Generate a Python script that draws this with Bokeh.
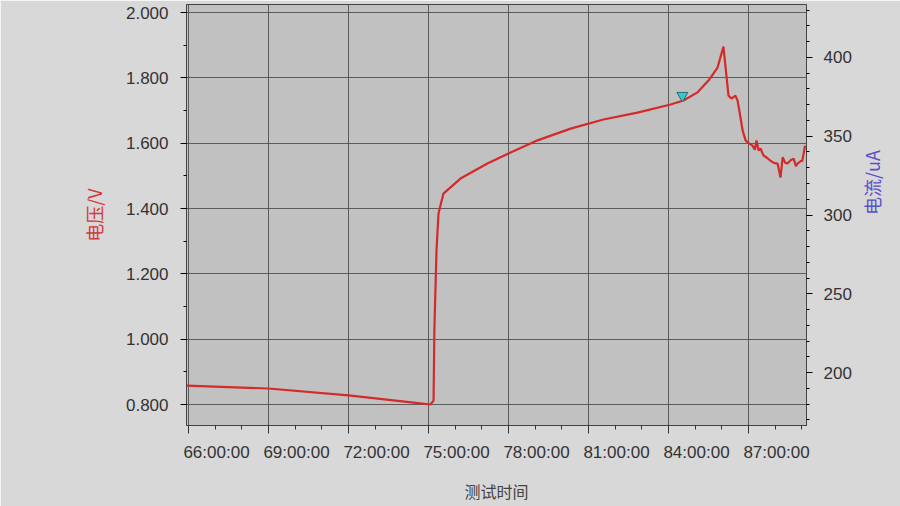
import math
from bokeh.plotting import figure
from bokeh.models import Range1d, LinearAxis, FixedTicker, SingleIntervalTicker
from bokeh.embed import file_html
from bokeh.resources import INLINE

# ---- data ----
hours = [65.93, 69.0, 72.0, 74.44, 75.07, 75.19, 75.22, 75.30, 75.375, 75.56,
         76.2, 77.21, 78.08, 79.09, 80.33, 81.56, 82.84, 84.08, 84.56, 85.09,
         85.5, 85.84, 86.06, 86.25, 86.36, 86.51, 86.59, 86.70, 86.78, 86.89,
         87.02, 87.15, 87.24, 87.30, 87.38, 87.45, 87.56, 87.70, 87.82, 87.95,
         88.09, 88.20, 88.28, 88.38, 88.46, 88.58, 88.69, 88.78, 88.84, 88.95,
         89.02, 89.12]
voltage = [0.858, 0.849, 0.828, 0.806, 0.800, 0.812, 1.027, 1.272, 1.385, 1.446,
           1.492, 1.538, 1.572, 1.609, 1.645, 1.673, 1.694, 1.719, 1.731, 1.756,
           1.792, 1.832, 1.896, 1.746, 1.737, 1.746, 1.731, 1.679, 1.639, 1.609,
           1.600, 1.593, 1.580, 1.609, 1.578, 1.584, 1.563, 1.555, 1.547, 1.540,
           1.538, 1.495, 1.557, 1.540, 1.538, 1.548, 1.553, 1.530, 1.538, 1.545,
           1.547, 1.593]
marker_hour = [84.52]
marker_voltage = [1.746]

x_ticks = [66, 69, 72, 75, 78, 81, 84, 87]
x_tick_labels = ["66:00:00", "69:00:00", "72:00:00", "75:00:00",
                 "78:00:00", "81:00:00", "84:00:00", "87:00:00"]
v_ticks = [0.8, 1.0, 1.2, 1.4, 1.6, 1.8, 2.0]
v_tick_labels = ["0.800", "1.000", "1.200", "1.400", "1.600", "1.800", "2.000"]

x_title = "测试时间"
v_title = "电压/V"
i_title = "电流/uA"

X0, X1 = 65.925, 89.175
Y0, Y1 = 0.7357, 2.0251
px_per_x = 620 / (X1 - X0)
shift = 28 / px_per_x   # labels start at the tick instead of centring on it

p = figure(width=900, height=506, output_backend="svg", toolbar_location=None,
           x_range=Range1d(X0, X1), y_range=Range1d(Y0, Y1),
           min_border_left=186, min_border_right=94, min_border_top=4,
           min_border_bottom=81)
p.extra_y_ranges = {"current": Range1d(166.35, 433.65)}
p.extra_x_ranges = {"labels": Range1d(X0 - shift, X1 - shift)}

p.background_fill_color = "#c1c1c1"
p.border_fill_color = "#d8d8d8"
p.outline_line_color = "#444444"
p.outline_line_width = 1

p.line(hours, voltage, line_color="#d42a2a", line_width=2.2)
p.scatter(marker_hour, marker_voltage, marker="inverted_triangle", size=11,
          fill_color="#3cc6cc", line_color="#1f6f78", line_width=1)

tick_font = "Liberation Sans"
tick_size = "17px"
cjk = "Noto Sans CJK SC"

# x axis: ticks only
xa = p.xaxis[0]
xa.ticker = FixedTicker(ticks=x_ticks, minor_ticks=list(range(66, 90)))
xa.major_label_overrides = {t: "" for t in x_ticks}
xa.major_label_text_font_size = "0px"
xa.major_label_standoff = 0
xa.major_tick_out = 8
xa.major_tick_in = 0
xa.minor_tick_out = 4
xa.minor_tick_in = 0
xa.axis_line_color = "#444444"
xa.major_tick_line_color = "#333333"
xa.minor_tick_line_color = "#333333"

# x axis labels (left-aligned on the ticks) + title
la = LinearAxis(x_range_name="labels", ticker=FixedTicker(ticks=x_ticks))
la.major_label_overrides = {t: l for t, l in zip(x_ticks, x_tick_labels)}
la.major_label_text_font = tick_font
la.major_label_text_font_size = tick_size
la.major_label_text_color = "#333333"
la.axis_line_color = None
la.major_tick_line_color = None
la.minor_tick_line_color = None
la.major_tick_out = 0
la.major_tick_in = 0
la.minor_tick_out = 0
la.minor_tick_in = 0
la.major_label_standoff = 9
la.axis_label = x_title
la.axis_label_text_font = cjk
la.axis_label_text_font_size = "16px"
la.axis_label_text_font_style = "normal"
la.axis_label_text_color = "#444444"
la.axis_label_standoff = 14
p.add_layout(la, "below")

# left axis (voltage)
ya = p.yaxis[0]
ya.ticker = FixedTicker(ticks=v_ticks,
                        minor_ticks=[round(0.8 + 0.1 * k, 2) for k in range(13)])
ya.major_label_overrides = {t: l for t, l in zip(v_ticks, v_tick_labels)}
ya.major_label_text_font = tick_font
ya.major_label_text_font_size = tick_size
ya.major_label_text_color = "#333333"
ya.major_tick_out = 6
ya.major_tick_in = 0
ya.minor_tick_out = 3
ya.minor_tick_in = 0
ya.major_label_standoff = 12
ya.axis_line_color = "#444444"
ya.axis_label = v_title
ya.axis_label_text_font = cjk
ya.axis_label_text_font_size = "18px"
ya.axis_label_text_font_style = "normal"
ya.axis_label_text_color = "#d03a3a"
ya.axis_label_standoff = 16

# right axis (current)
ra = LinearAxis(y_range_name="current",
                ticker=SingleIntervalTicker(interval=50, num_minor_ticks=5))
ra.major_label_text_font = tick_font
ra.major_label_text_font_size = tick_size
ra.major_label_text_color = "#333333"
ra.major_tick_out = 6
ra.major_tick_in = 0
ra.minor_tick_out = 3
ra.minor_tick_in = 0
ra.major_label_standoff = 11
ra.axis_line_color = "#444444"
ra.axis_label = i_title
ra.axis_label_text_font = cjk
ra.axis_label_text_font_size = "18px"
ra.axis_label_text_font_style = "normal"
ra.axis_label_text_color = "#5a50c8"
ra.axis_label_standoff = 17
if "axis_label_orientation" in ra.properties():
    ra.axis_label_orientation = math.pi / 2
p.add_layout(ra, "right")

# grid
p.xgrid.ticker = FixedTicker(ticks=x_ticks)
p.ygrid.ticker = FixedTicker(ticks=v_ticks)
for g in (p.xgrid[0], p.ygrid[0]):
    g.grid_line_color = "#4a4a4a"
    g.grid_line_width = 1
    g.grid_line_alpha = 0.85

open("out.html", "w").write(file_html(p, INLINE))
